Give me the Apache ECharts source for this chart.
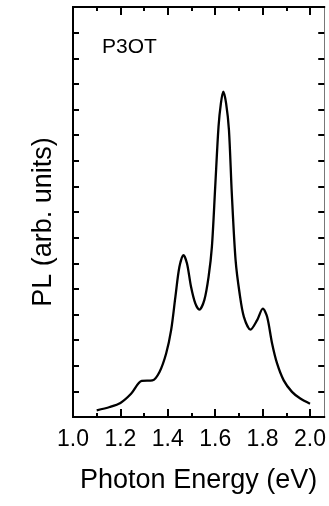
<!DOCTYPE html>
<html>
<head>
<meta charset="utf-8">
<script src="https://cdn.jsdelivr.net/npm/echarts@6/dist/echarts.min.js"></script>
<style>
html,body{margin:0;padding:0;background:#fff;}
#chart{width:329px;height:506px;}
</style>
</head>
<body>
<div id="chart"></div>
<script>
var energy = [1.10,1.155,1.20,1.245,1.29,1.335,1.365,1.393,1.414,1.432,1.449,1.466,1.481,1.498,1.516,1.533,1.554,1.572,1.586,1.600,1.614,1.624,1.634,1.646,1.658,1.670,1.686,1.703,1.721,1.749,1.777,1.801,1.819,1.840,1.861,1.889,1.924,1.959,2.00];
var pl = [0.26,0.39,0.55,0.91,1.41,1.43,1.76,2.48,3.39,4.69,5.86,6.32,5.99,5.08,4.43,4.19,4.56,5.47,6.64,8.98,11.33,12.24,12.70,12.24,11.2,8.73,6.12,4.82,3.91,3.41,3.78,4.23,3.91,2.87,2.09,1.43,0.98,0.72,0.52];
var xMajorTicks = [1.0,1.2,1.4,1.6,1.8,2.0];
var xMinorTicks = [1.1,1.3,1.5,1.7,1.9];
var xTickLabels = ['1.0','1.2','1.4','1.6','1.8','2.0'];
var sampleLabel = 'P3OT';
var xTitle = 'Photon Energy (eV)';
var yTitle = 'PL (arb. units)';

var FONT = '"Liberation Sans", Arial, Helvetica, sans-serif';
var chart = echarts.init(document.getElementById('chart'), null, {renderer:'canvas'});

function xAx(pos, ticks, len, labels, name, lineColor, lineWidth) {
  return {
    type:'value', position:pos, min:1.0, max:2.06,
    axisLine:{show:true, onZero:false, lineStyle:{color:lineColor, width:lineWidth}},
    axisTick:{show:true, inside:true, length:len, customValues:ticks, lineStyle:{color:'#000', width:2}},
    axisLabel:{show:labels, customValues:xMajorTicks, margin:11, color:'#000', fontSize:23, fontFamily:FONT,
      formatter:function(v){ var i = xMajorTicks.findIndex(function(t){return Math.abs(t-v)<1e-6;}); return i>=0 ? xTickLabels[i] : ''; }},
    splitLine:{show:false},
    name:name, nameLocation:'middle', nameGap:50,
    nameTextStyle:{color:'#000', fontSize:27, fontFamily:FONT}
  };
}
function yAx(pos, lineColor, lineWidth, name) {
  return {
    type:'value', position:pos, min:0, max:16, interval:1,
    axisLine:{show:true, onZero:false, lineStyle:{color:lineColor, width:lineWidth}},
    axisTick:{show:true, inside:true, length:6, lineStyle:{color:'#000', width:2}},
    axisLabel:{show:false}, splitLine:{show:false},
    name:name, nameLocation:'middle', nameGap:16,
    nameTextStyle:{color:'#000', fontSize:27, fontFamily:FONT, padding:[0,20,0,0]}
  };
}

chart.setOption({
  animation:false,
  backgroundColor:'#fff',
  title:{text:sampleLabel, left:102, top:37, padding:0,
    textStyle:{color:'#000', fontSize:21, fontWeight:'normal', fontFamily:FONT}},
  grid:{left:73, right:3, top:7, bottom:89, containLabel:false},
  xAxis:[
    xAx('bottom', xMajorTicks, 8, true, xTitle, '#000', 2),
    xAx('top', xMajorTicks, 8, false, '', '#000', 2),
    xAx('bottom', xMinorTicks, 4, false, '', '#000', 2),
    xAx('top', xMinorTicks, 4, false, '', '#000', 2)
  ],
  yAxis:[
    yAx('left', '#000', 2, yTitle),
    yAx('right', '#777', 1, '')
  ],
  series:[{
    type:'line', xAxisIndex:0, yAxisIndex:0,
    data: energy.map(function(e,i){return [e, pl[i]];}),
    smooth:0.3, showSymbol:false, symbol:'none',
    lineStyle:{color:'#000', width:2.3}
  }]
});
</script>
</body>
</html>
